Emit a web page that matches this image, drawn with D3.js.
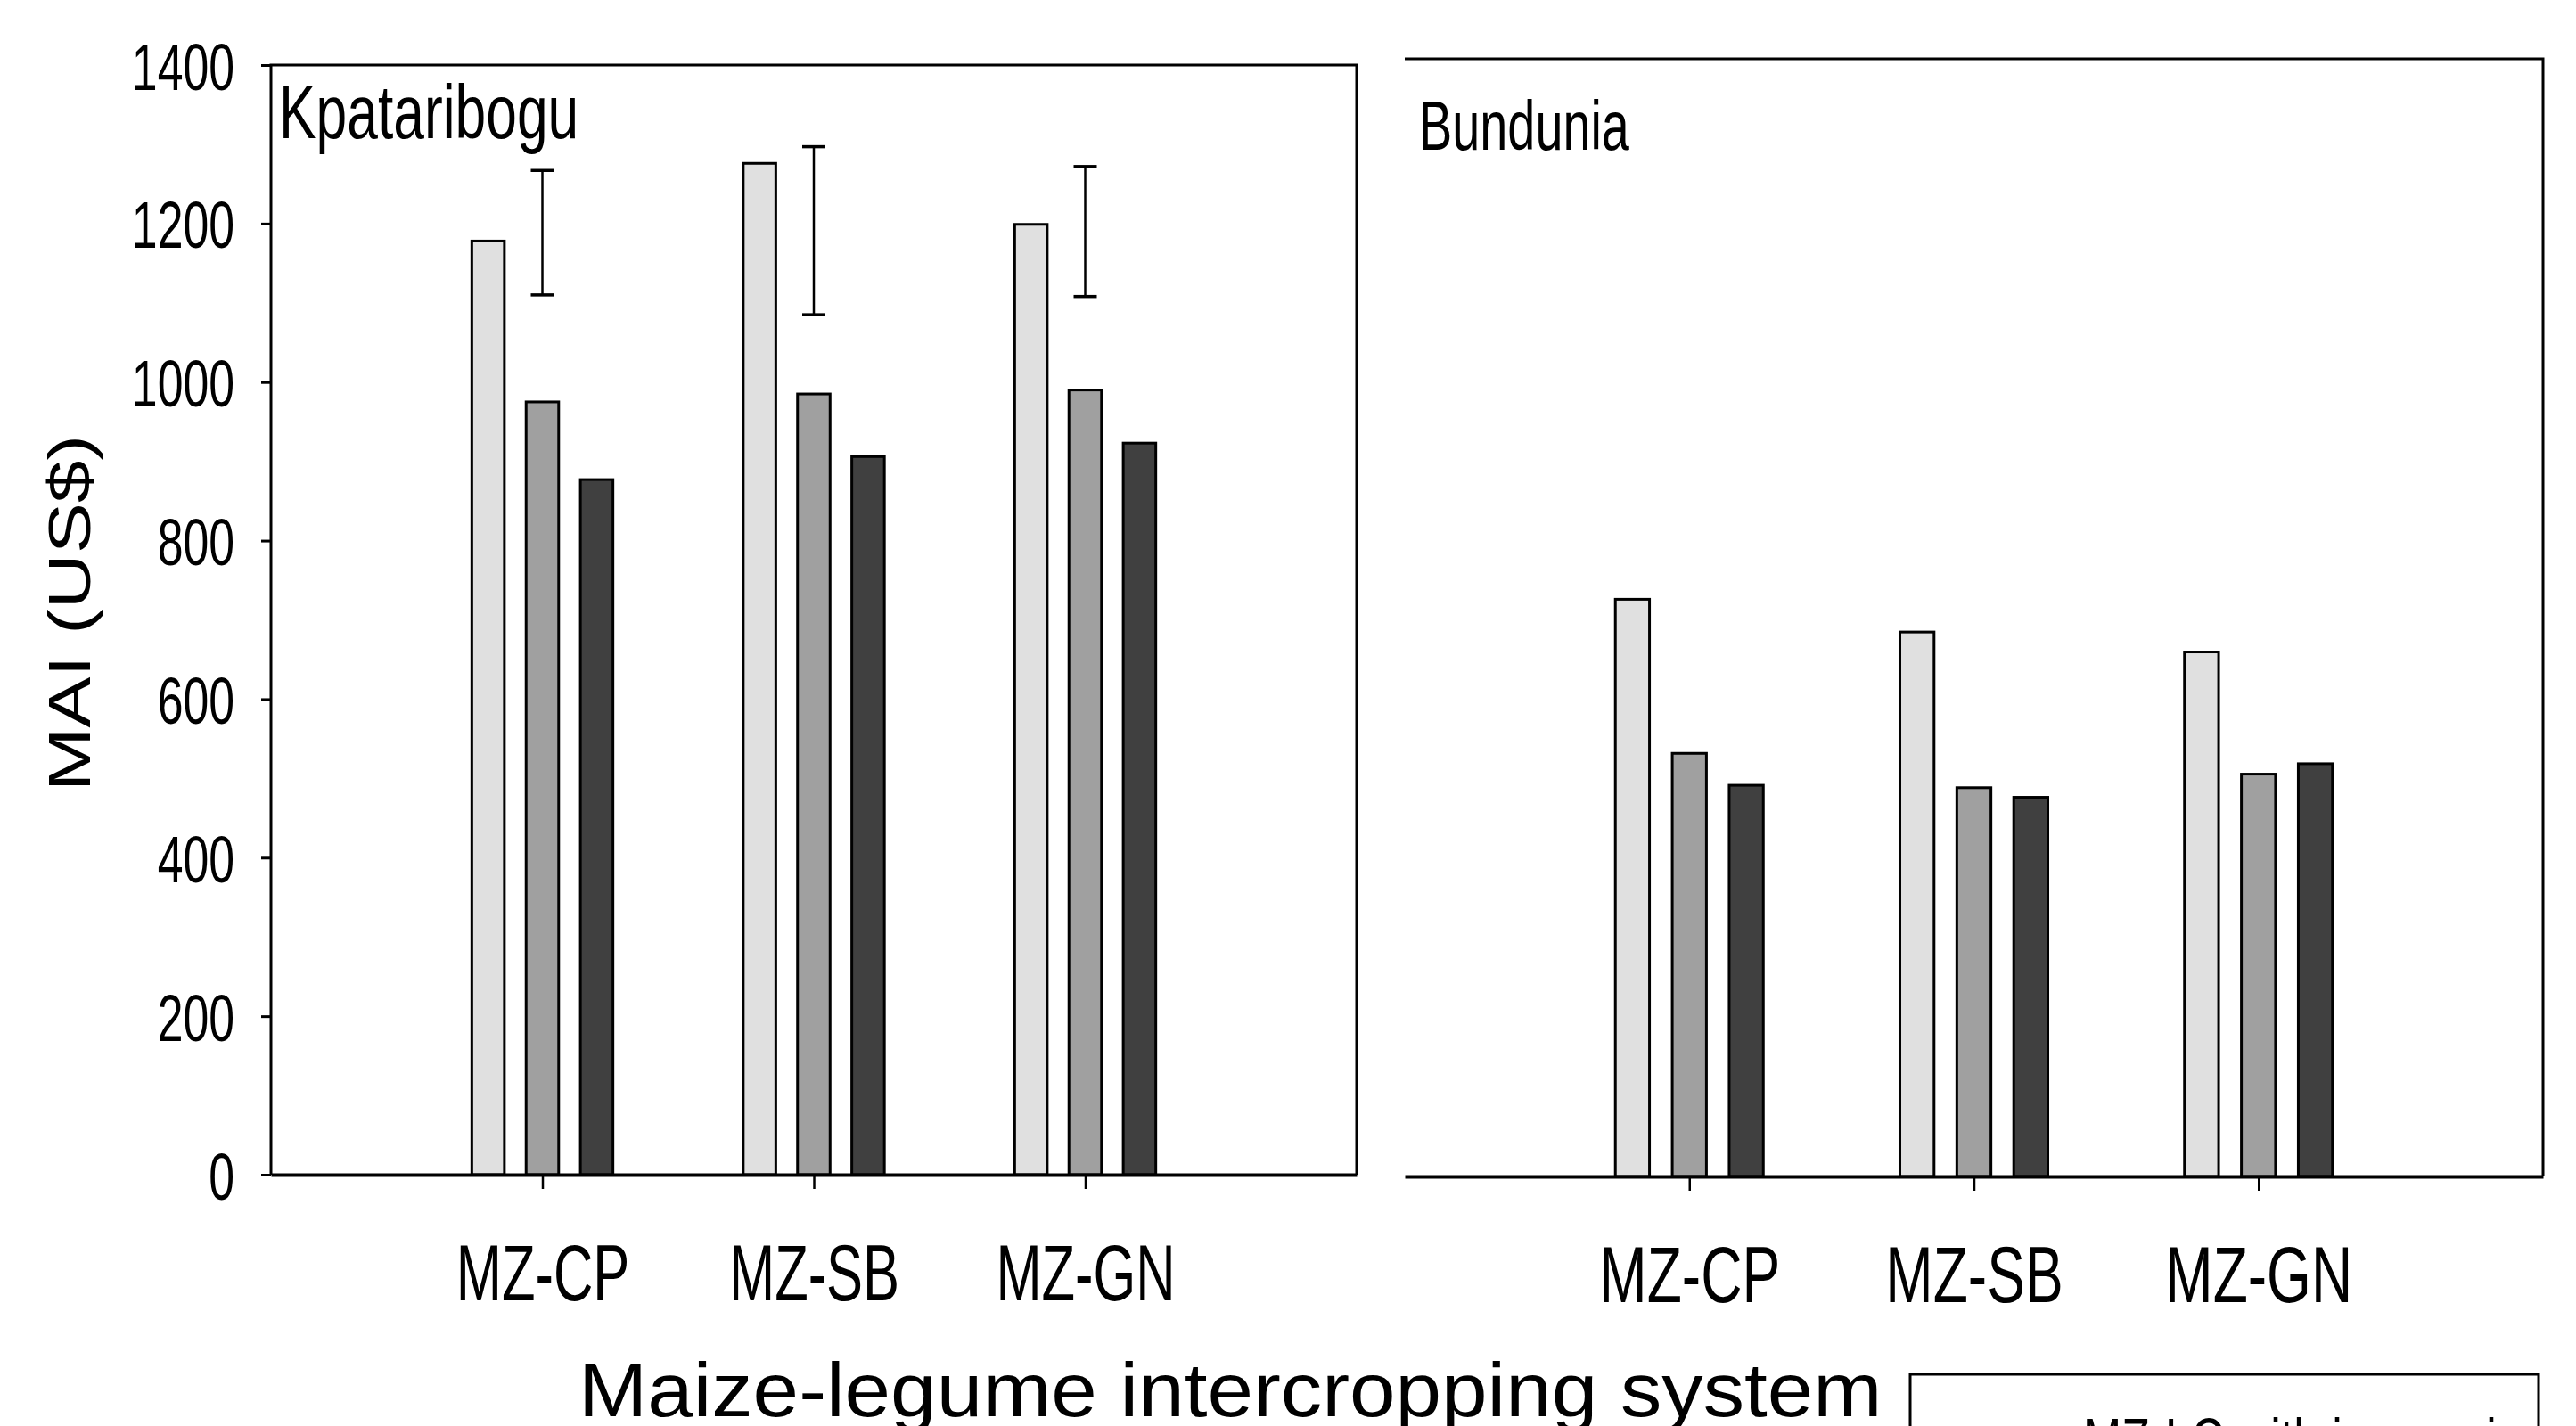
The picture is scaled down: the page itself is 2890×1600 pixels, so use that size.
<!DOCTYPE html>
<html>
<head>
<meta charset="utf-8">
<script src="https://cdn.jsdelivr.net/npm/d3@7"></script>
<style>
  html, body { margin: 0; padding: 0; background: #fff; }
  svg text { font-family: "Liberation Sans", Arial, sans-serif; fill: #000; }
</style>
</head>
<body>
<svg id="chart" width="2890" height="1600"></svg>
<script>
// categories and values
const categories = ["MZ-CP", "MZ-SB", "MZ-GN"];
const seriesNames = ["MZ-LC with inorganic", "series 2", "series 3"];
const seriesColors = ["#e0e0e0", "#a0a0a0", "#404040"];

const kpatariboguValues = [
  [1178, 975, 877],
  [1276, 985, 906],
  [1199, 990, 923]
];
const kpatariboguErr = [
  [1110, 1267],
  [1085, 1297],
  [1108, 1272]
];
const bunduniaValues = [
  [723, 530, 490],
  [682, 487, 475],
  [657, 504, 517]
];
const yTicks = [0, 200, 400, 600, 800, 1000, 1200, 1400];

const svg = d3.select("#chart");

// squeeze/stretch text horizontally to match the original's proportions
function fit(sel, sx) {
  sel.each(function() {
    const w = this.getComputedTextLength();
    d3.select(this).attr("textLength", w * sx).attr("lengthAdjust", "spacingAndGlyphs");
  });
}

function panel(opt) {
  const x = d3.scaleLinear().domain([0, 4]).range([opt.left, opt.right]);
  const y = d3.scaleLinear().domain([0, 1400]).range([opt.bottom, opt.top]);
  const g = svg.append("g");

  // bars
  opt.values.forEach((vals, ci) => {
    g.selectAll(null)
      .data(vals)
      .enter().append("rect")
      .attr("x", (d, si) => x(ci + 1 + (si - 1) * 0.2 - 0.06))
      .attr("width", x(0.12) - x(0))
      .attr("y", d => y(d))
      .attr("height", d => y(0) - y(d))
      .attr("fill", (d, si) => seriesColors[si])
      .attr("stroke", "#000")
      .attr("stroke-width", 3);
  });

  // error (LSD) bars
  if (opt.err) {
    const eb = g.selectAll(".err").data(opt.err).enter().append("g").attr("class", "err");
    eb.append("line")
      .attr("x1", (d, i) => x(i + 1)).attr("x2", (d, i) => x(i + 1))
      .attr("y1", d => y(d[0])).attr("y2", d => y(d[1]))
      .attr("stroke", "#000").attr("stroke-width", 2.5);
    [0, 1].forEach(k => {
      eb.append("line")
        .attr("x1", (d, i) => x(i + 1) - 13).attr("x2", (d, i) => x(i + 1) + 13)
        .attr("y1", d => y(d[k])).attr("y2", d => y(d[k]))
        .attr("stroke", "#000").attr("stroke-width", 3.5);
    });
  }

  // frame
  const fr = opt.leftLine
    ? `M${opt.right},${opt.bottom}V${opt.top}H${opt.left}V${opt.bottom}`
    : `M${opt.left},${opt.top}H${opt.right}V${opt.bottom}`;
  g.append("path").attr("d", fr).attr("fill", "none").attr("stroke", "#000").attr("stroke-width", 3);

  // x axis
  const xAxis = d3.axisBottom(x)
    .tickValues([1, 2, 3])
    .tickFormat(d => categories[d - 1])
    .tickSize(16)
    .tickSizeOuter(0);
  const xa = g.append("g").attr("transform", `translate(0,${opt.bottom})`).call(xAxis);
  xa.select(".domain").attr("stroke", "#000").attr("stroke-width", 4);
  xa.selectAll(".tick line").attr("stroke", "#000").attr("stroke-width", 2.5);
  const xt = xa.selectAll(".tick text")
    .attr("dy", null).attr("y", 141)
    .style("font-size", "89px");
  fit(xt, opt.labelSx);

  // y axis
  if (opt.yAxis) {
    const yAxis = d3.axisLeft(y).tickValues(yTicks).tickFormat(d3.format("d"))
      .tickSize(11).tickPadding(30).tickSizeOuter(0);
    const ya = g.append("g").attr("transform", `translate(${opt.left},0)`).call(yAxis);
    ya.select(".domain").remove();
    ya.selectAll(".tick line").attr("stroke", "#000").attr("stroke-width", 3);
    const yt = ya.selectAll(".tick text")
      .attr("dy", "0.36em")
      .style("font-size", "75px");
    fit(yt, 0.69);
  }

  // site name
  const t = g.append("text")
    .attr("x", opt.left + opt.nameDx)
    .attr("y", opt.nameY)
    .style("font-size", opt.nameSize + "px")
    .text(opt.name);
  fit(t, 0.725);
}

panel({
  left: 304, right: 1522, top: 73, bottom: 1318,
  values: kpatariboguValues, err: kpatariboguErr,
  leftLine: true, yAxis: true, labelSx: 0.69,
  name: "Kpataribogu", nameDx: 9, nameY: 155, nameSize: 86
});

panel({
  left: 1576, right: 2853, top: 66, bottom: 1320,
  values: bunduniaValues, err: null,
  leftLine: false, yAxis: false, labelSx: 0.72,
  name: "Bundunia", nameDx: 16, nameY: 168, nameSize: 77
});

// y axis title
const yt = svg.append("text")
  .attr("transform", "translate(101,688) rotate(-90)")
  .attr("text-anchor", "middle")
  .style("font-size", "67px")
  .text("MAI (US$)");
fit(yt, 1.28);

// x axis title
const xt = svg.append("text")
  .attr("x", 649)
  .attr("y", 1589)
  .style("font-size", "85px")
  .text("Maize-legume intercropping system");
fit(xt, 1.09);

// legend box (cut by the bottom edge)
svg.append("rect")
  .attr("x", 2143).attr("y", 1542)
  .attr("width", 705).attr("height", 200)
  .attr("fill", "none").attr("stroke", "#000").attr("stroke-width", 3);
const lg = svg.append("text")
  .attr("x", 2337).attr("y", 1642)
  .style("font-size", "72px")
  .text(seriesNames[0]);
fit(lg, 0.72);
</script>
</body>
</html>
